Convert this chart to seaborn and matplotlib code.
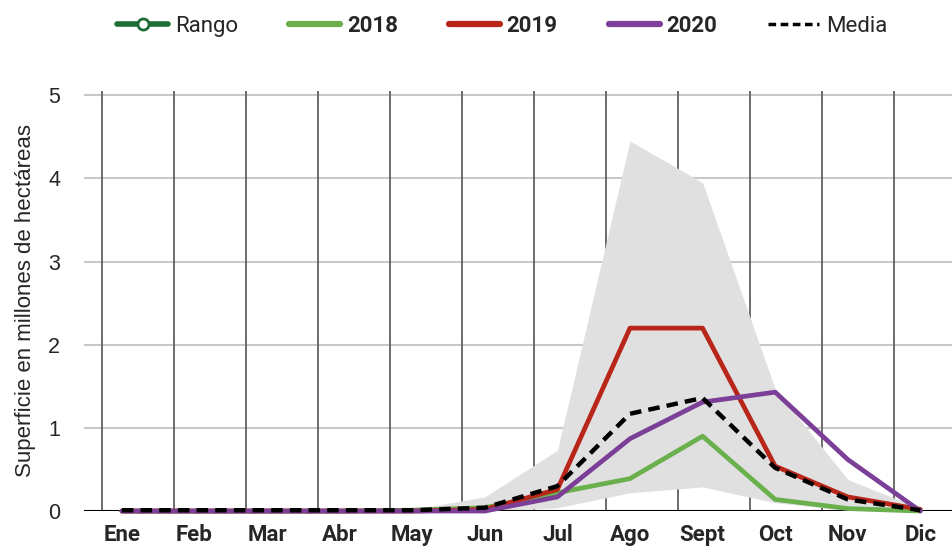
import pandas as pd
import matplotlib
matplotlib.use("Agg")
import matplotlib.pyplot as plt
from matplotlib.lines import Line2D
import seaborn as sns

# --- data (millones de hectáreas) ---
meses = ["Ene", "Feb", "Mar", "Abr", "May", "Jun", "Jul", "Ago", "Sept", "Oct", "Nov", "Dic"]
rango_min = [0, 0, 0, 0, 0, 0, 0.04, 0.22, 0.29, 0.10, 0.01, 0]
rango_max = [0, 0, 0, 0, 0.02, 0.17, 0.73, 4.45, 3.95, 1.47, 0.38, 0.03]
v2018 = [0, 0, 0, 0, 0.01, 0.04, 0.22, 0.39, 0.90, 0.14, 0.03, 0]
v2019 = [0, 0, 0, 0, 0, 0.02, 0.26, 2.20, 2.20, 0.54, 0.17, 0.02]
v2020 = [0, 0, 0, 0, 0, 0, 0.17, 0.87, 1.31, 1.43, 0.62, 0]
media = [0.01, 0.01, 0.01, 0.01, 0.01, 0.04, 0.30, 1.17, 1.36, 0.52, 0.14, 0.01]

colores = {"2018": "#6ab04c", "2019": "#b8261a", "2020": "#7b3f98"}
verde_rango = "#1d6b35"

pos = list(range(len(meses)))
df = pd.DataFrame({
    "pos": pos * 3,
    "valor": v2018 + v2019 + v2020,
    "serie": ["2018"] * 12 + ["2019"] * 12 + ["2020"] * 12,
})
df_media = pd.DataFrame({"pos": pos, "valor": media})

sns.set_style("white")
plt.rcParams["font.family"] = ["Liberation Sans", "DejaVu Sans"]
narrow = ["Roboto", "DejaVu Sans"]

fig = plt.figure(figsize=(9.53, 5.46), dpi=100)
ax = fig.add_axes([0.088, 0.064, 0.912, 0.77])

# range band
ax.fill_between(pos, rango_min, rango_max, color="#e1e0e1", lw=0, zorder=1)

# grid
for y in [1, 2, 3, 4, 5]:
    ax.axhline(y, color="#c8c8c8", lw=1.5, zorder=0.5)
for k in range(12):
    ax.axvline(-0.275 + k * 0.992, color="#6b6b6b", lw=1.4, zorder=0.6)
ax.axhline(0, color="black", lw=1.5, zorder=2)

sns.lineplot(data=df, x="pos", y="valor", hue="serie", palette=colores,
             linewidth=3.4, legend=False, ax=ax, zorder=3)
for line in ax.get_lines()[-3:]:
    line.set_clip_on(False)
sns.lineplot(data=df_media, x="pos", y="valor", color="black", linewidth=3.2,
             ax=ax, zorder=4)
ax.get_lines()[-1].set_dashes([2.6, 1.6])
ax.get_lines()[-1].set_clip_on(False)

ax.set_xlim(-0.523, 11.45)
ax.set_ylim(0, 5.056)
ax.set_xticks(pos)
ax.set_xticklabels(meses, fontsize=16, fontweight="bold", family=narrow)
ax.set_yticks([0, 1, 2, 3, 4, 5])
ax.set_yticklabels(["0", "1", "2", "3", "4", "5"], fontsize=15.5)
ax.tick_params(axis="x", length=0, pad=9)
ax.tick_params(axis="y", length=0, pad=17)
ax.set_xlabel("")
ax.set_ylabel("Superficie en millones de hectáreas", fontsize=16, labelpad=9)
for s in ax.spines.values():
    s.set_visible(False)

# legend
handles = [
    Line2D([], [], color=verde_rango, lw=4, marker="o", markersize=8,
           markerfacecolor="white", markeredgecolor=verde_rango, markeredgewidth=2),
    Line2D([], [], color=colores["2018"], lw=4.5, solid_capstyle="round"),
    Line2D([], [], color=colores["2019"], lw=4.5, solid_capstyle="round"),
    Line2D([], [], color=colores["2020"], lw=4.5, solid_capstyle="round"),
    Line2D([], [], color="black", lw=2.5, dashes=[2.2, 1.3]),
]
leg = fig.legend(handles, ["Rango", "2018", "2019", "2020", "Media"], ncol=5,
                 loc="center", bbox_to_anchor=(0.527, 0.953), frameon=False,
                 prop={"family": narrow, "size": 16}, handlelength=2.3,
                 handletextpad=0.3, columnspacing=2.3)
for t in leg.get_texts()[1:4]:
    t.set_fontweight("bold")

fig.savefig("out.png", dpi=100)
